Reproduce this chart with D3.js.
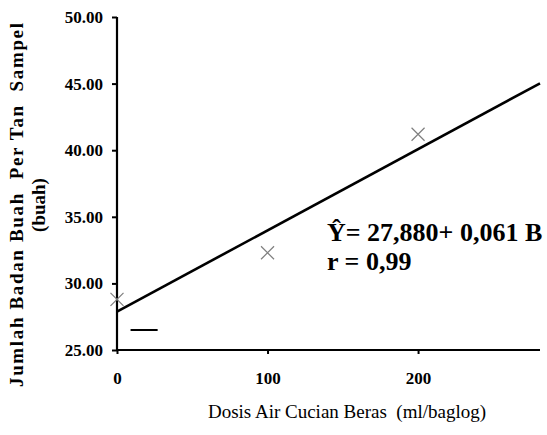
<!DOCTYPE html>
<html><head><meta charset="utf-8">
<script src="https://cdn.jsdelivr.net/npm/d3@7"></script>
<style>body{margin:0;background:#fff}svg{display:block}text{white-space:pre}</style>
</head><body>
<svg id="c" width="547" height="435"></svg>
<script>
const doses = [0, 100, 200];
const observed = [28.8, 32.3, 41.2];
const intercept = 27.880, slope = 0.061;
const xTicks = [0, 100, 200];
const yTicks = [25, 30, 35, 40, 45, 50];
const xDomain = [0, 281];
const yDomain = [25, 50];
const legendDash = {x: [9, 27], y: 26.5};
const eqText = "Ŷ= 27,880+ 0,061 B";
const rText = "r = 0,99";
const xTitle = "Dosis Air Cucian Beras  (ml/baglog)";
const yTitle1 = "Jumlah Badan Buah  Per Tan  Sampel";
const yTitle2 = "(buah)";

const svg = d3.select("#c");
const font = "'Liberation Serif','Times New Roman',serif";
const x = d3.scaleLinear().domain(xDomain).range([117, 540]);
const y = d3.scaleLinear().domain(yDomain).range([350, 17]);

const yAx = svg.append("g").attr("transform","translate(117,0)")
  .call(d3.axisLeft(y).tickValues(yTicks).tickFormat(d3.format(".2f")).tickSize(5).tickPadding(9));
const xAx = svg.append("g").attr("transform","translate(0,350)")
  .call(d3.axisBottom(x).tickValues(xTicks).tickFormat(d3.format("d")).tickSize(4).tickPadding(18));
[yAx, xAx].forEach(g => {
  g.select(".domain").attr("stroke","#000").attr("stroke-width",2.2);
  g.selectAll(".tick line").attr("stroke","#000").attr("stroke-width",2);
  g.selectAll("text").attr("font-family",font).attr("font-weight","bold").attr("font-size",17).attr("fill","#000");
});
yAx.select(".domain").attr("d", `M0,${y(50)}V${y(25)}`);
xAx.select(".domain").attr("d", `M${x(0)},0H${x(281)}`);

// regression line
svg.append("line")
  .attr("x1", x(xDomain[0])).attr("y1", y(intercept + slope*xDomain[0]))
  .attr("x2", x(xDomain[1])).attr("y2", y(intercept + slope*xDomain[1]))
  .attr("stroke","#000").attr("stroke-width",2.6);

// markers
const s = 6.5;
const pts = svg.append("g");
doses.forEach((d,i) => {
  const cx = x(d), cy = y(observed[i]);
  pts.append("path").attr("d", `M${cx-s},${cy-s}L${cx+s},${cy+s}M${cx-s},${cy+s}L${cx+s},${cy-s}`)
    .attr("stroke","#7f7f7f").attr("stroke-width",1.2).attr("fill","none");
});

// legend dash
svg.append("line")
  .attr("x1", x(legendDash.x[0])).attr("x2", x(legendDash.x[1]))
  .attr("y1", y(legendDash.y)).attr("y2", y(legendDash.y))
  .attr("stroke","#000").attr("stroke-width",2);

// equation
svg.append("text").attr("x",327).attr("y",241).attr("font-family",font).attr("font-weight","bold")
  .attr("font-size",26).text(eqText);
svg.append("text").attr("x",327).attr("y",270).attr("font-family",font).attr("font-weight","bold")
  .attr("font-size",26).text(rText);

// axis titles
svg.append("text").attr("x",347).attr("y",418).attr("text-anchor","middle")
  .attr("font-family",font).attr("font-size",19).text(xTitle);
svg.append("text").attr("transform","translate(23,205) rotate(-90)").attr("text-anchor","middle")
  .attr("font-family",font).attr("font-weight","bold").attr("font-size",19)
  .attr("textLength",364).attr("lengthAdjust","spacing").text(yTitle1);
svg.append("text").attr("transform","translate(45,205) rotate(-90)").attr("text-anchor","middle")
  .attr("font-family",font).attr("font-weight","bold").attr("font-size",19).text(yTitle2);
</script>
</body></html>
